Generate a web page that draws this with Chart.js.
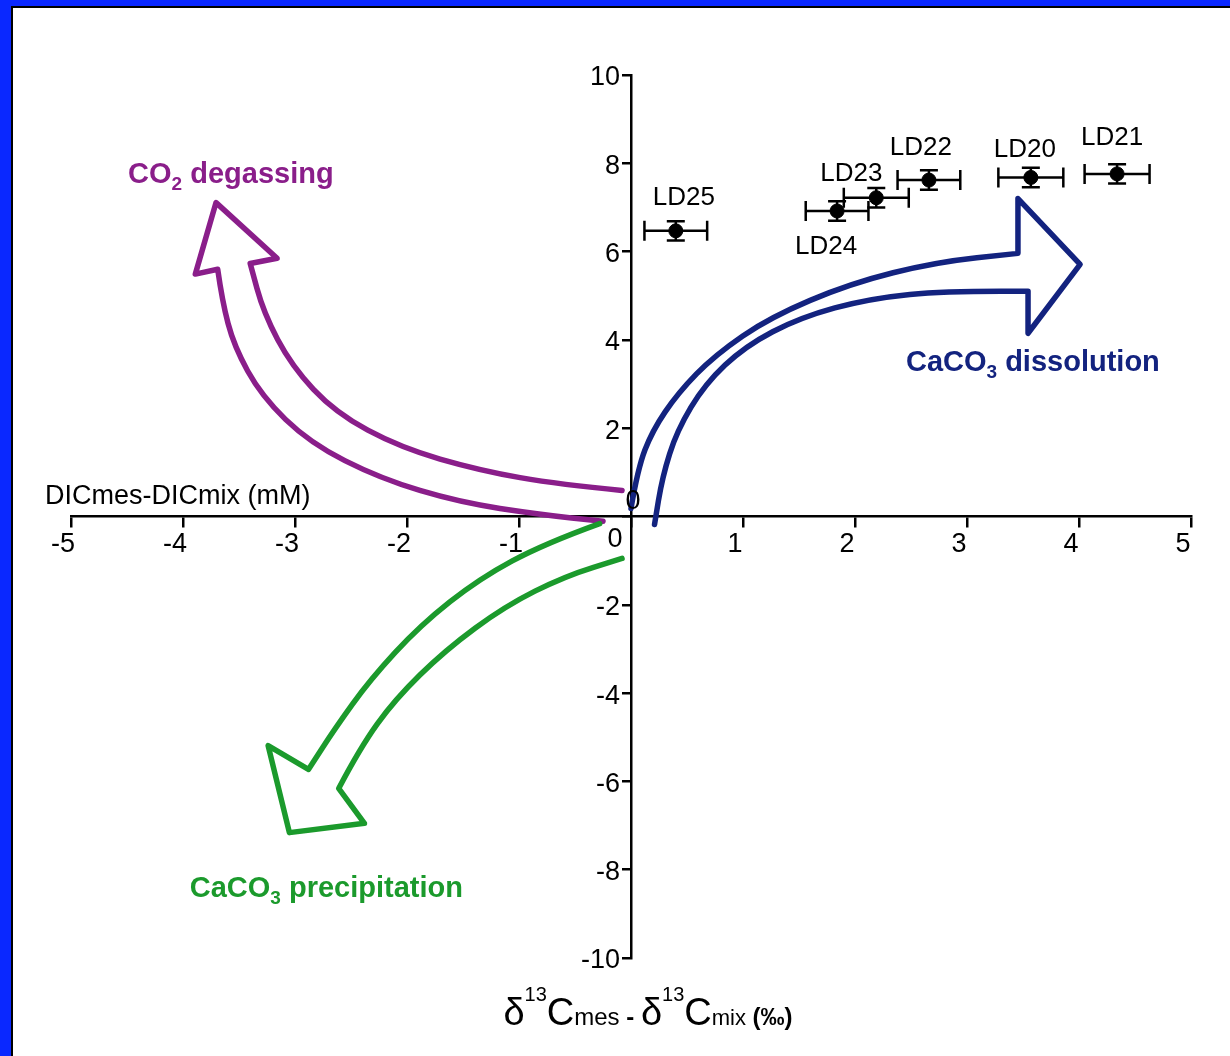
<!DOCTYPE html>
<html><head><meta charset="utf-8">
<script src="https://cdn.jsdelivr.net/npm/chart.js@4.4.0/dist/chart.umd.min.js"></script>
<style>html,body{margin:0;padding:0;background:#fff;overflow:hidden}#wrap{position:relative;width:1230px;height:1056px}</style>
</head><body><div id="wrap"><canvas id="c" width="1230" height="1056"></canvas></div>
<script>
// ---- data ----
const sampleNames = ['LD25', 'LD24', 'LD23', 'LD22', 'LD20', 'LD21'];
const deltaC13 = [0.40, 1.84, 2.19, 2.66, 3.57, 4.34];      // δ13Cmes - δ13Cmix (‰)
const dicDiff = [6.47, 6.92, 7.22, 7.62, 7.68, 7.76];       // DICmes - DICmix (mM)
const deltaC13Err = [0.28, 0.28, 0.29, 0.28, 0.29, 0.29];
const dicDiffErr = [0.22, 0.22, 0.22, 0.22, 0.22, 0.22];
const xTickValues = [-5, -4, -3, -2, -1, 0, 1, 2, 3, 4, 5];
const yTickValues = [-10, -8, -6, -4, -2, 0, 2, 4, 6, 8, 10];

// ---- label placement (pixel offsets from point) ----
const labelOffsets = [[8, -33], [-11, 36], [-25, -24], [-8, -32], [-6, -28], [-5, -36]];

// ---- annotation arrows (data coordinates) ----
const dissolutionArrow = [
  {curve: true, pts: [[0.0, 0.18], [0.06, 1.08], [0.19, 1.94], [0.42, 2.80], [0.75, 3.66], [1.24, 4.51], [1.96, 5.28], [2.72, 5.76], [3.455, 5.96]]},
  {curve: false, pts: [[3.455, 5.96], [3.455, 7.20], [4.01, 5.71], [3.545, 4.15], [3.545, 5.10]]},
  {curve: true, pts: [[3.545, 5.10], [2.85, 5.12], [2.13, 4.94], [1.51, 4.51], [1.02, 3.86], [0.66, 3.00], [0.41, 1.94], [0.28, 0.90], [0.21, -0.18]]}
];
const degassingArrow = [
  {curve: true, pts: [[-0.08, 0.59], [-0.63, 0.72], [-1.35, 1.04], [-2.06, 1.56], [-2.64, 2.35], [-3.03, 3.41], [-3.28, 4.61], [-3.40, 5.73]]},
  {curve: false, pts: [[-3.40, 5.73], [-3.16, 5.85], [-3.705, 7.11], [-3.89, 5.49], [-3.69, 5.60]]},
  {curve: true, pts: [[-3.69, 5.60], [-3.65, 4.88], [-3.545, 3.86], [-3.30, 2.73], [-2.87, 1.67], [-2.24, 0.86], [-1.53, 0.32], [-0.81, 0.045], [-0.25, -0.11]]}
];
const precipitationArrow = [
  {curve: true, pts: [[-0.28, -0.16], [-0.77, -0.61], [-1.35, -1.40], [-1.88, -2.46], [-2.33, -3.70], [-2.64, -4.79], [-2.88, -5.73]]},
  {curve: false, pts: [[-2.88, -5.73], [-3.24, -5.19], [-3.05, -7.16], [-2.38, -6.95], [-2.61, -6.16]]},
  {curve: true, pts: [[-2.61, -6.16], [-2.42, -5.24], [-2.11, -4.15], [-1.66, -3.03], [-1.125, -2.03], [-0.59, -1.35], [-0.08, -0.95]]}
];

const PURPLE = '#8a1e8a', NAVY = '#13237f', GREEN = '#1b9a2c';
const FONT = '"Liberation Sans", Arial, sans-serif';

function traceArrow(ctx, segs, sx, sy) {
  let first = true;
  segs.forEach(seg => {
    const p = seg.pts.map(([x, y]) => [sx(x), sy(y)]);
    if (first) { ctx.moveTo(p[0][0], p[0][1]); first = false; } else ctx.lineTo(p[0][0], p[0][1]);
    if (seg.curve) {
      for (let i = 1; i < p.length - 1; i++) {
        const mx = (p[i][0] + p[i + 1][0]) / 2, my = (p[i][1] + p[i + 1][1]) / 2;
        ctx.quadraticCurveTo(p[i][0], p[i][1], mx, my);
      }
      ctx.lineTo(p[p.length - 1][0], p[p.length - 1][1]);
    } else {
      for (let i = 1; i < p.length; i++) ctx.lineTo(p[i][0], p[i][1]);
    }
  });
}

function drawRich(ctx, parts, x, y, align) {
  let total = 0;
  parts.forEach(p => { ctx.font = p[1]; total += ctx.measureText(p[0]).width; });
  let cx = align === 'center' ? x - total / 2 : x;
  ctx.textAlign = 'left';
  ctx.textBaseline = 'alphabetic';
  parts.forEach(p => { ctx.font = p[1]; ctx.fillText(p[0], cx, y + (p[2] || 0)); cx += ctx.measureText(p[0]).width; });
}

const decor = {
  id: 'decor',
  beforeDraw(chart) {
    const ctx = chart.ctx;
    ctx.save();
    ctx.fillStyle = '#ffffff';
    ctx.fillRect(0, 0, chart.width, chart.height);
    ctx.fillStyle = '#0a28ff';
    ctx.fillRect(0, 0, 11, chart.height);
    ctx.fillRect(0, 0, chart.width, 6);
    ctx.fillStyle = '#000000';
    ctx.fillRect(11, 6, 2, chart.height);
    ctx.fillRect(11, 6, chart.width, 2);
    ctx.restore();
  },
  beforeDatasetsDraw(chart) {
    const ctx = chart.ctx, xs = chart.scales.x, ys = chart.scales.y;
    const sx = v => xs.getPixelForValue(v), sy = v => ys.getPixelForValue(v);
    ctx.save();
    [[degassingArrow, PURPLE], [dissolutionArrow, NAVY], [precipitationArrow, GREEN]].forEach(([segs, col]) => {
      ctx.beginPath();
      traceArrow(ctx, segs, sx, sy);
      ctx.strokeStyle = col; ctx.lineWidth = 5.5; ctx.lineJoin = 'round'; ctx.lineCap = 'round';
      ctx.stroke();
    });
    ctx.strokeStyle = '#000'; ctx.lineWidth = 2.5; ctx.lineCap = 'butt';
    deltaC13.forEach((xv, i) => {
      const yv = dicDiff[i];
      const px = sx(xv), py = sy(yv);
      const x1 = sx(xv - deltaC13Err[i]), x2 = sx(xv + deltaC13Err[i]);
      const y1 = sy(yv - dicDiffErr[i]), y2 = sy(yv + dicDiffErr[i]);
      ctx.beginPath();
      ctx.moveTo(x1, py); ctx.lineTo(x2, py);
      ctx.moveTo(x1, py - 10); ctx.lineTo(x1, py + 10);
      ctx.moveTo(x2, py - 10); ctx.lineTo(x2, py + 10);
      ctx.moveTo(px, y1); ctx.lineTo(px, y2);
      ctx.moveTo(px - 9, y1); ctx.lineTo(px + 9, y1);
      ctx.moveTo(px - 9, y2); ctx.lineTo(px + 9, y2);
      ctx.stroke();
    });
    ctx.restore();
  },
  afterDatasetsDraw(chart) {
    const ctx = chart.ctx, xs = chart.scales.x, ys = chart.scales.y;
    const sx = v => xs.getPixelForValue(v), sy = v => ys.getPixelForValue(v);
    const ax = sx(0), ay = sy(0);
    ctx.save();
    ctx.fillStyle = '#000';
    ctx.font = '27px ' + FONT;
    ctx.textAlign = 'center'; ctx.textBaseline = 'middle';
    xTickValues.forEach(v => { if (v !== 0) ctx.fillText(String(v), sx(v) - 8, ay + 28); });
    ctx.fillText('0', ax - 16, ay + 23);
    ctx.textAlign = 'right';
    yTickValues.forEach(v => { if (v !== 0) ctx.fillText(String(v), ax - 11, sy(v) + 3); });
    ctx.textAlign = 'center';
    ctx.fillText('0', ax + 2, ay - 15);
    ctx.textAlign = 'left';
    ctx.font = '27px ' + FONT;
    ctx.fillText('DICmes-DICmix (mM)', xs.left - 26, ay - 20);
    ctx.textAlign = 'center';
    ctx.font = '26px ' + FONT;
    sampleNames.forEach((n, i) => {
      ctx.fillText(n, sx(deltaC13[i]) + labelOffsets[i][0], sy(dicDiff[i]) + labelOffsets[i][1]);
    });
    const B = 'bold 29px ' + FONT, BS = 'bold 19px ' + FONT;
    ctx.fillStyle = PURPLE;
    drawRich(ctx, [['CO', B], ['2', BS, 7], [' degassing', B]], sx(-4.49), sy(7.79) + 10, 'left');
    ctx.fillStyle = NAVY;
    drawRich(ctx, [['CaCO', B], ['3', BS, 7], [' dissolution', B]], sx(2.455), sy(3.52) + 10, 'left');
    ctx.fillStyle = GREEN;
    drawRich(ctx, [['CaCO', B], ['3', BS, 7], [' precipitation', B]], sx(-3.94), sy(-8.40) + 10, 'left');
    ctx.fillStyle = '#000';
    const big = '38px ' + FONT, sup = '20px ' + FONT;
    drawRich(ctx, [
      ['δ', big], ['13', sup, -24], ['C', big], ['mes', '24px ' + FONT], [' - ', 'bold 24px ' + FONT],
      ['δ', big], ['13', sup, -24], ['C', big], ['mix', '22px ' + FONT], [' (‰)', 'bold 24px ' + FONT]
    ], ax + 17, 1025, 'center');
    ctx.restore();
  }
};

new Chart(document.getElementById('c'), {
  type: 'scatter',
  data: {
    datasets: [{
      label: 'samples',
      data: deltaC13.map((x, i) => ({x: x, y: dicDiff[i]})),
      pointRadius: 7, pointHoverRadius: 7,
      backgroundColor: '#000', borderColor: '#000'
    }]
  },
  options: {
    responsive: false, animation: false, devicePixelRatio: 1,
    layout: {padding: {left: 71, right: 39, top: 75, bottom: 98}},
    plugins: {legend: {display: false}, tooltip: {enabled: false}},
    scales: {
      x: {
        type: 'linear', min: -5, max: 5, position: {y: 0},
        ticks: {display: false, stepSize: 1},
        grid: {drawOnChartArea: false, drawTicks: true, tickLength: 10, color: '#000', lineWidth: 2.5},
        border: {display: true, color: '#000', width: 2.5}
      },
      y: {
        type: 'linear', min: -10, max: 10, position: {x: 0},
        ticks: {display: false, stepSize: 2},
        grid: {drawOnChartArea: false, drawTicks: true, tickLength: 8, color: '#000', lineWidth: 2.5},
        border: {display: true, color: '#000', width: 2.5}
      }
    }
  },
  plugins: [decor]
});
</script></body></html>
